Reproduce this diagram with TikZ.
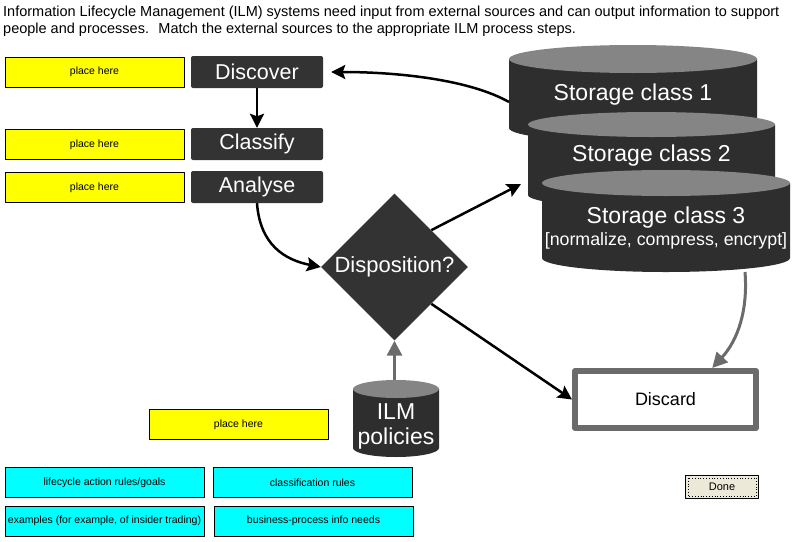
\documentclass[tikz,border=0pt]{standalone}
\usepackage{fontspec}
\setmainfont{Liberation Sans}
\usetikzlibrary{arrows.meta,shapes.geometric}

\definecolor{boxdark}{HTML}{333333}
\definecolor{cylbody}{HTML}{2E2E2E}
\definecolor{cyltop}{HTML}{858585}
\definecolor{linegray}{HTML}{6B6B6B}
\definecolor{slotyellow}{HTML}{FFFF00}
\definecolor{srccyan}{HTML}{00FFFF}
\definecolor{btnface}{HTML}{ECE9D8}

\begin{document}
\begin{tikzpicture}[
      % 以像素为单位，y 轴向下
      x=1pt,
      y=-1pt,
      >={Stealth[length=14pt,width=14pt,inset=2.5pt]},
      line join=round,
      stepbox/.style={fill=boxdark, rounded corners=2pt, minimum width=132pt,
        minimum height=32pt, inner sep=0pt, text=white,
        font=\fontsize{21.5}{21.5}\selectfont},
      slot/.style={draw=black, fill=slotyellow, line width=1pt, minimum width=179pt,
        minimum height=30pt, inner sep=0pt, font=\fontsize{10.5}{12}\selectfont},
      source/.style={draw=black, fill=srccyan, line width=1pt, minimum width=199pt,
        minimum height=30pt, inner sep=0pt, font=\fontsize{10.5}{12}\selectfont},
      cyltext/.style={text=white, inner sep=0pt, font=\fontsize{23}{25}\selectfont},
      flow/.style={->, line width=2.5pt, black},
      feed/.style={-{Triangle[length=15pt,width=15pt]}, line width=3pt, linegray},
    ]
    \useasboundingbox (0,0) rectangle (792,541);

    % 题目说明
    \node[anchor=north west, align=left, inner sep=0pt,
      font=\fontsize{14.5}{17}\selectfont] (intro) at (3,6)
      {Information Lifecycle Management (ILM) systems need input from external sources and can output information to support\\
       people and processes.~ Match the external sources to the appropriate ILM process steps.};

    % 流程步骤
    \node[stepbox] (discover) at (257,72)  {Discover};
    \node[stepbox] (classify) at (257,144) {Classify};
    \node[stepbox] (analyse)  at (257,187) {Analyse};

    % 待填位置
    \node[slot] (slot1) at (94.5,72)    {place here};
    \node[slot] (slot2) at (94.5,144.5) {place here};
    \node[slot] (slot3) at (94.5,187.5) {place here};
    \node[slot] (slot4) at (238.5,424.5) {place here};

    % 三个存储类圆柱
    \fill[cylbody] (509,59) -- (509,128)
      arc[start angle=180, end angle=360, x radius=124pt, y radius=14pt] -- (757,59) -- cycle;
    \fill[cyltop] (633,59) ellipse[x radius=124pt, y radius=14pt];
    \node[cyltext] (st1) at (633,95) {Storage class 1};

    \fill[cylbody] (528,124.5) -- (528,195)
      arc[start angle=180, end angle=360, x radius=123.5pt, y radius=13pt] -- (775,124.5) -- cycle;
    \fill[cyltop] (651.5,124.5) ellipse[x radius=123.5pt, y radius=12.5pt];
    \node[cyltext] (st2) at (651.5,156) {Storage class 2};

    \fill[cylbody] (542,183) -- (542,258)
      arc[start angle=180, end angle=360, x radius=124pt, y radius=14pt] -- (790,183) -- cycle;
    \fill[cyltop] (666,183) ellipse[x radius=124pt, y radius=13pt];
    \node[cyltext] (st3) at (666,218) {Storage class 3};
    \node[cyltext, font=\fontsize{17.8}{18}\selectfont] (st3note) at (666,241)
      {[normalize, compress, encrypt]};

    \coordinate (st1w) at (509,102);
    \coordinate (st2w) at (521,184);
    \coordinate (st3b) at (745,272);

    % 判断菱形
    \node[diamond, aspect=1, fill=boxdark, minimum width=147pt, minimum height=147pt,
      inner sep=0pt, text=white, font=\fontsize{22}{22}\selectfont] (disp) at (394.5,267)
      {Disposition?};

    % ILM 策略圆柱
    \fill[cylbody] (353,389) -- (353,448)
      arc[start angle=180, end angle=360, x radius=43pt, y radius=9pt] -- (439,389) -- cycle;
    \fill[cyltop] (396,389) ellipse[x radius=43pt, y radius=9pt];
    \node[cyltext, align=center] (ilm) at (396,426) {ILM\\policies};
    \coordinate (ilmtop) at (394.5,380);

    % 丢弃
    \node[draw=linegray, line width=6pt, fill=white, minimum width=181pt,
      minimum height=57pt, font=\fontsize{18}{18}\selectfont] (discard) at (665.5,399.5)
      {Discard};

    % 外部来源
    \node[source] (rules)    at (104.5,482.5) {lifecycle action rules/goals};
    \node[source] (classrul) at (312.5,482.5) {classification rules};
    \node[source] (examples) at (104.5,521)   {examples (for example, of insider trading)};
    \node[source] (bizneeds) at (313.5,521)   {business-process info needs};

    % 按钮
    \node[draw=black, line width=1.2pt, fill=btnface, minimum width=73pt,
      minimum height=23pt, inner sep=0pt, font=\fontsize{11}{11}\selectfont] (done)
      at (722,487) {Done};
    \draw[dotted, line width=0.8pt]
      ([shift={(3pt,-3pt)}]done.north west) rectangle ([shift={(-3pt,3pt)}]done.south east);

    % 连线
    \draw[flow] (st1w) .. controls (470,80) and (400,72) .. (discover.east)
      [shorten >=8pt] ;
    \draw[flow] (discover) -- (classify);
    \draw[flow] (analyse.south) .. controls (260,245) and (285,260) .. (disp.west);
    \draw[flow] (disp.north east) -- (st2w);
    \draw[flow] (disp.south east) -- (discard.west);
    \draw[feed] (ilmtop) -- (disp.south);
    \draw[feed] (st3b) .. controls (748,310) and (738,340) .. (discard.34);

    \end{tikzpicture}
\end{document}
